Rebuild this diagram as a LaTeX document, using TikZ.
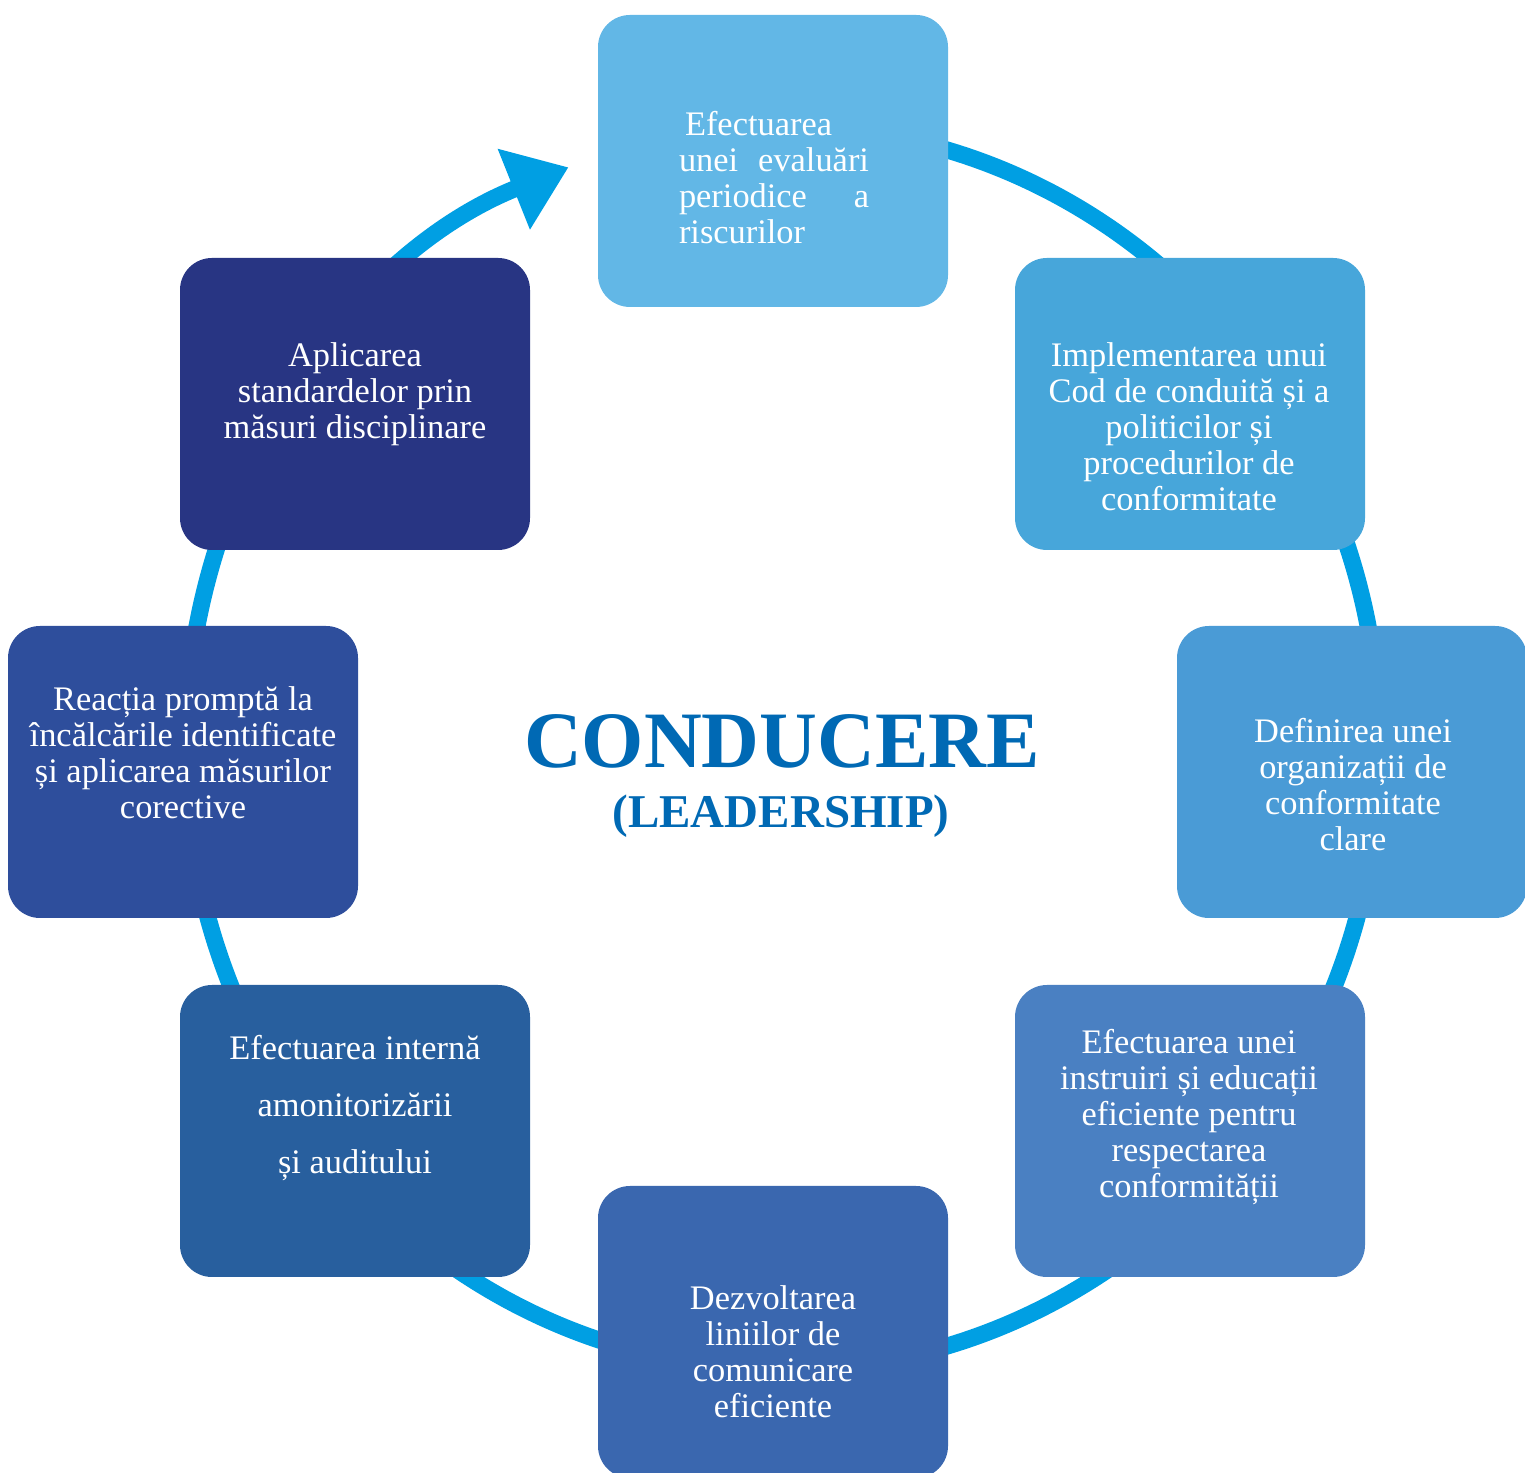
\documentclass[tikz,border=0pt]{standalone}
\usepackage{fontspec}
\setmainfont{Liberation Serif}
\usepackage{tikz}
\usetikzlibrary{arrows.meta}

\definecolor{ringblue}{HTML}{009FE3}
\definecolor{titleblue}{HTML}{0069B4}
\definecolor{boxa}{HTML}{62B7E6}
\definecolor{boxb}{HTML}{47A6DA}
\definecolor{boxc}{HTML}{4A9BD6}
\definecolor{boxd}{HTML}{4A80C2}
\definecolor{boxe}{HTML}{3A67AF}
\definecolor{boxf}{HTML}{285F9E}
\definecolor{boxg}{HTML}{2E4E9C}
\definecolor{boxh}{HTML}{283583}

\tikzset{
    stepbox/.style={rounded corners=16pt, minimum width=175pt, minimum height=146pt, inner sep=0pt},
    steptext/.style={text=white, align=center, inner sep=0pt, font=\fontsize{17.2}{18}\selectfont},
    ring/.style={draw=ringblue, line width=8.5pt}
}

\begin{document}
\begin{tikzpicture}[x=0.5pt, y=0.5pt]
    \useasboundingbox (0,0) rectangle (1525,1472);

    % the ring with its arrow
    \draw[ring, -{Triangle[length=29.5pt, width=41.5pt]}]
        (782.5,724) ++(85:597 and 622)
        arc[start angle=85, end angle=-249, x radius=597, y radius=622];

    % boxes
    \foreach \i/\x/\y/\co in {
        1/773/1311/boxa,
        2/1190/1068/boxb,
        3/1352/700/boxc,
        4/1190/341/boxd,
        5/773/140/boxe,
        6/355/341/boxf,
        7/183/700/boxg,
        8/355/1068/boxh}
    {
        \node[stepbox, fill=\co] (box\i) at (\x,\y) {};
    }

    % texts
    \node[steptext, align=left] (text1) at (774,1294)
        {\hspace*{3pt}Efectuarea\\
         \makebox[95pt][s]{unei evaluări}\\
         \makebox[95pt][s]{periodice a}\\
         riscurilor};
    \foreach \i/\x/\y/\txt in {
        2/1189/1045/{Implementarea unui\\Cod de conduită și a\\politicilor și\\procedurilor de\\conformitate},
        3/1353/687/{Definirea unei\\organizații de\\conformitate\\clare},
        4/1189/355/{Efectuarea unei\\instruiri și educații\\eficiente pentru\\respectarea\\conformității},
        5/773/120/{Dezvoltarea\\liniilor de\\comunicare\\eficiente},
        6/355/364/{Efectuarea internă\\[10.5pt]amonitorizării\\[10.5pt]și auditului},
        7/183/719/{Reacția promptă la\\încălcările identificate\\și aplicarea măsurilor\\corective},
        8/355/1078/{Aplicarea\\standardelor prin\\măsuri disciplinare}}
    {
        \node[steptext] (text\i) at (\x,\y) {\txt};
    }

    % title
    \node[anchor=base, text=titleblue, font=\bfseries\fontsize{40}{48}\selectfont] (title) at (782,704) {CONDUCERE};
    \node[anchor=base, text=titleblue, font=\bfseries\fontsize{23.5}{28}\selectfont] (subtitle) at (781,644) {(LEADERSHIP)};
\end{tikzpicture}
\end{document}
